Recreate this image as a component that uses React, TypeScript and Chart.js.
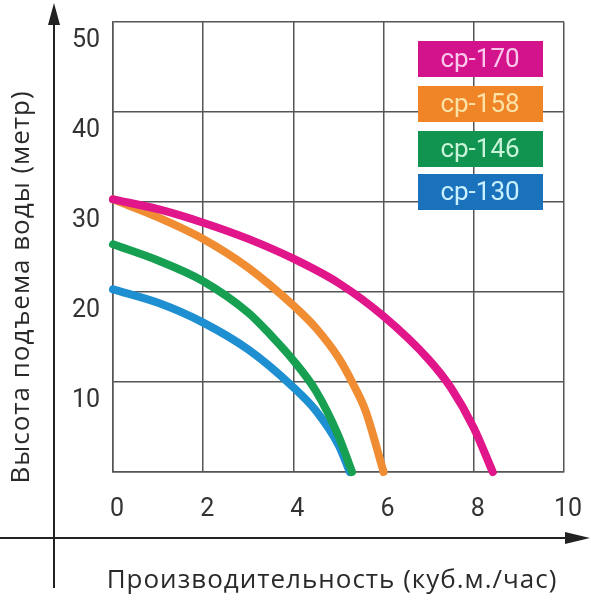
import { useEffect, useRef } from "react"
import { Chart, registerables } from "chart.js"

Chart.register(...registerables)

// подача, куб.м./час -> высота, м
const cp170X = [0, 1, 2, 3, 4, 5, 6, 7, 7.5, 8, 8.42]
const cp170Y = [30.3, 29.2, 27.7, 25.9, 23.7, 21.0, 17.3, 12.5, 9.3, 4.9, 0]
const cp158X = [0, 1, 2, 3, 4, 4.5, 5, 5.3, 5.6, 6]
const cp158Y = [30.3, 28.3, 25.9, 22.7, 18.5, 16.0, 12.7, 10, 6.8, 0]
const cp146X = [0, 1, 2, 3, 3.5, 4, 4.5, 5, 5.3]
const cp146Y = [25.3, 23.5, 21.2, 17.7, 15.2, 12.4, 9.0, 4.0, 0]
const cp130X = [0, 1, 2, 3, 4, 4.5, 5, 5.25]
const cp130Y = [20.3, 18.8, 16.6, 13.6, 9.4, 6.8, 3.0, 0]

const seriesNames = ["cp-170", "cp-158", "cp-146", "cp-130"]
const lineColors = ["#e0168a", "#f08c32", "#17a052", "#1e8fd0"]
const boxColors = ["#d3138c", "#f08528", "#119450", "#1a72bd"]
const boxTextColors = ["#f9c8ec", "#fde2a6", "#c9f4d9", "#c8f0ff"]

const xTicks = [0, 2, 4, 6, 8, 10]
const yTicks = [0, 10, 20, 30, 40, 50]

const xTitle = "Производительность (куб.м./час)"
const yTitle = "Высота подъема воды (метр)"

const toPoints = (xs: number[], ys: number[]) => xs.map((x, i) => ({ x, y: ys[i] }))

const decorPlugin = {
  id: "decor",
  afterDraw(chart: Chart) {
    const ctx = chart.ctx as CanvasRenderingContext2D & { letterSpacing: string }
    ctx.save()
    // стрелки осей
    ctx.strokeStyle = "#222"
    ctx.fillStyle = "#222"
    ctx.lineWidth = 2
    ctx.beginPath()
    ctx.moveTo(54, 588)
    ctx.lineTo(54, 20)
    ctx.moveTo(0, 538)
    ctx.lineTo(570, 538)
    ctx.stroke()
    ctx.beginPath()
    ctx.moveTo(54, 3)
    ctx.lineTo(48, 25)
    ctx.lineTo(60, 25)
    ctx.closePath()
    ctx.fill()
    ctx.beginPath()
    ctx.moveTo(590, 538)
    ctx.lineTo(565, 532)
    ctx.lineTo(565, 544)
    ctx.closePath()
    ctx.fill()

    // подписи осей
    ctx.fillStyle = "#2a2a2a"
    ctx.font = "26px 'Open Sans'"
    ctx.letterSpacing = "1px"
    ctx.textAlign = "center"
    ctx.textBaseline = "middle"
    ctx.fillText(xTitle, 332, 581)
    ctx.save()
    ctx.translate(22, 287)
    ctx.rotate(-Math.PI / 2)
    ctx.fillText(yTitle, 0, 0)
    ctx.restore()
    ctx.letterSpacing = "0px"

    // легенда
    const tops = [41, 86, 131, 174]
    ctx.font = "26px Roboto"
    chart.data.datasets.forEach((ds, i) => {
      ctx.fillStyle = boxColors[i]
      ctx.fillRect(418, tops[i], 125, 36)
      ctx.fillStyle = boxTextColors[i]
      ctx.fillText(String(ds.label), 480, tops[i] + 19)
    })
    ctx.restore()
  },
}

const noScalePadding = (scale: any) => {
  scale.paddingTop = 0
  scale.paddingBottom = 0
  scale.paddingLeft = 0
  scale.paddingRight = 0
}

export default function App() {
  const chartRef = useRef<HTMLCanvasElement>(null)
  const chartInstance = useRef<Chart | null>(null)

  useEffect(() => {
    document.body.style.margin = "0"
    if (!chartRef.current) return
    if (chartInstance.current) chartInstance.current.destroy()

    const ctx = chartRef.current.getContext("2d")
    if (!ctx) return

    const xs = [cp170X, cp158X, cp146X, cp130X]
    const ys = [cp170Y, cp158Y, cp146Y, cp130Y]

    chartInstance.current = new Chart(ctx, {
      type: "line",
      data: {
        datasets: seriesNames.map((name, i) => ({
          label: name,
          data: toPoints(xs[i], ys[i]),
          borderColor: lineColors[i],
          backgroundColor: lineColors[i],
          borderWidth: 8,
          borderCapStyle: "round" as const,
          pointRadius: 0,
          cubicInterpolationMode: "monotone" as const,
          clip: false as const,
        })),
      },
      options: {
        animation: false,
        responsive: false,
        maintainAspectRatio: false,
        layout: { padding: { top: 22, right: 27, left: 0, bottom: 0 } },
        plugins: {
          legend: { display: false },
          tooltip: { enabled: false },
        },
        scales: {
          x: {
            type: "linear",
            min: xTicks[0],
            max: xTicks[xTicks.length - 1],
            afterBuildTicks: (scale) => {
              scale.ticks = xTicks.map((v) => ({ value: v }))
            },
            afterFit: (scale) => {
              scale.height = 128
              noScalePadding(scale)
            },
            ticks: {
              font: { family: "Roboto", size: 25 },
              color: "#333",
              labelOffset: 4,
              padding: 23,
            },
            grid: { color: "#555", lineWidth: 1.5, drawTicks: false },
            border: { color: "#555", width: 1.5 },
          },
          y: {
            min: yTicks[0],
            max: yTicks[yTicks.length - 1],
            afterBuildTicks: (scale) => {
              scale.ticks = yTicks.map((v) => ({ value: v }))
            },
            afterFit: (scale) => {
              scale.width = 113
              noScalePadding(scale)
            },
            ticks: {
              font: { family: "Roboto", size: 25 },
              color: "#333",
              labelOffset: 19,
              padding: 13,
              callback: (value) => (value === 0 ? "" : String(value)),
            },
            grid: { color: "#555", lineWidth: 1.5, drawTicks: false },
            border: { color: "#555", width: 1.5 },
          },
        },
      },
      plugins: [decorPlugin],
    })

    return () => {
      if (chartInstance.current) {
        chartInstance.current.destroy()
        chartInstance.current = null
      }
    }
  }, [])

  return (
    <div style={{ width: 591, height: 600 }}>
      <canvas ref={chartRef} width={591} height={600} />
    </div>
  )
}
